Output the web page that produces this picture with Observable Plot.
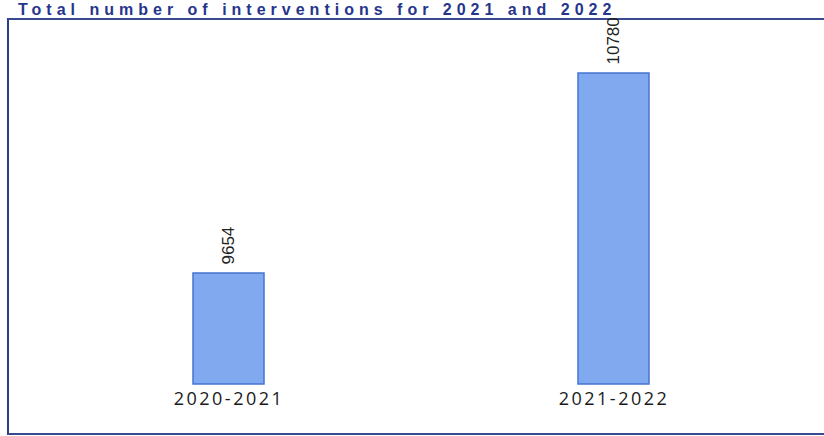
<!DOCTYPE html>
<html>
<head>
<meta charset="utf-8">
<script src="https://cdn.jsdelivr.net/npm/d3@7"></script>
<script src="https://cdn.jsdelivr.net/npm/@observablehq/plot@0.6"></script>
<style>
  html, body { margin: 0; padding: 0; background: #ffffff; width: 824px; height: 436px; overflow: hidden; }
  #page { position: relative; width: 824px; height: 436px; }
  #title { position: absolute; left: 18px; top: 2px; white-space: nowrap; line-height: 16px; height: 16px;
    font-family: "Liberation Sans", Arial, sans-serif; font-size: 16px; font-weight: bold; color: #26358c;
    letter-spacing: 5px; }
  #box { position: absolute; left: 7px; top: 18px; width: 840px; height: 413px;
    border-left: 2px solid #2e3b86; border-top: 2px solid #3a4a8e; border-bottom: 2px solid #3a4a8e; }
  #chart { position: absolute; left: 0; top: 19px; }
  #chart [aria-label="x-axis tick label"] text { letter-spacing: 2.5px; }
</style>
</head>
<body>
<div id="page">
  <div id="title">Total number of interventions for 2021 and 2022</div>
  <div id="box"></div>
  <div id="chart"></div>
</div>
<script>
const years = ["2020-2021", "2021-2022"];
const interventions = [9654, 10780];

const data = years.map((y, i) => ({year: y, value: interventions[i]}));

const chart = Plot.plot({
  width: 824,
  height: 417,
  marginLeft: 0,
  marginRight: 0,
  marginTop: 0,
  marginBottom: 52,
  style: {background: "transparent", overflow: "visible"},
  x: {domain: years, range: [76.7, 765.3], paddingInner: 0.816, paddingOuter: 0.3, label: null},
  y: {domain: [9029, 10780], range: [365, 54], clamp: true, axis: null},
  marks: [
    Plot.barY(data, {x: "year", y: "value", fill: "#80a9ef", stroke: "#4675d2", strokeWidth: 1.5}),
    Plot.text(data, {
      x: "year", y: "value", text: d => String(d.value),
      rotate: -90, textAnchor: "start", dy: -9,
      fontSize: 17, fill: "#222", fontFamily: "Liberation Sans, Arial, sans-serif"
    }),
    Plot.axisX({tickSize: 0, tickPadding: 8, fontSize: 18, fill: "#1a1a1a",
      fontFamily: "Open Sans, sans-serif", label: null})
  ]
});
document.getElementById("chart").appendChild(chart);
</script>
</body>
</html>
